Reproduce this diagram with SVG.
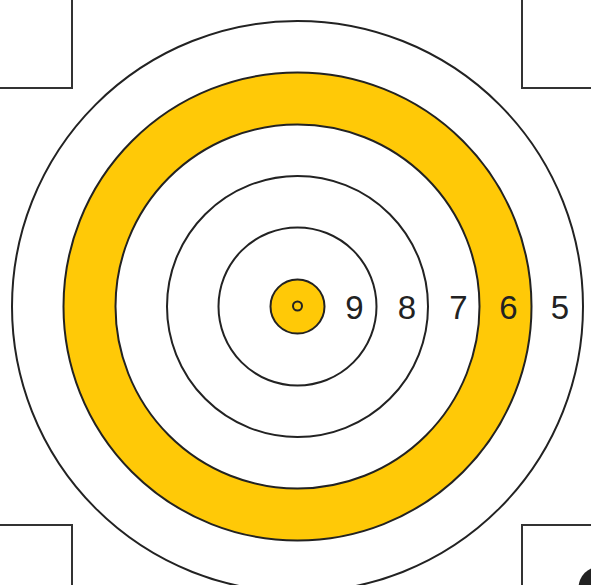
<svg xmlns="http://www.w3.org/2000/svg" width="591" height="585" viewBox="0 0 591 585">
<style>
.ring{stroke:#222;stroke-width:2}
.corner{fill:#fff;stroke:#333;stroke-width:2}
.lbl{font-family:"Liberation Sans",Arial,sans-serif;font-size:33px;fill:#222;text-anchor:middle}
</style>
<rect width="591" height="585" fill="#fff"/>
<g id="corners">
<rect class="corner" x="-100" y="-100" width="172" height="188"/>
<rect class="corner" x="522" y="-100" width="200" height="188"/>
<rect class="corner" x="-100" y="525" width="172" height="200"/>
<rect class="corner" x="522" y="525" width="200" height="200"/>
</g>
<g id="target">
<circle id="ring5" class="ring" cx="297.5" cy="306.5" r="285.5" fill="#fff"/>
<circle id="ring6" class="ring" cx="297.5" cy="306.5" r="234" fill="#FFC907"/>
<circle id="ring7" class="ring" cx="297.5" cy="306.5" r="182" fill="#fff"/>
<circle id="ring8" class="ring" cx="297.5" cy="306.5" r="130.5" fill="#fff"/>
<circle id="ring9" class="ring" cx="297.5" cy="306.5" r="79" fill="#fff"/>
<circle id="ring10" class="ring" cx="297.5" cy="306.5" r="27" fill="#FFC907"/>
<circle id="x" cx="297.5" cy="306" r="4.5" fill="none" stroke="#222" stroke-width="2"/>
</g>
<g id="labels">
<text class="lbl" x="354.5" y="318.5">9</text>
<text class="lbl" x="407" y="318.5">8</text>
<text class="lbl" x="458.5" y="318.5">7</text>
<text class="lbl" x="508.5" y="318.5">6</text>
<text class="lbl" x="560" y="318.5">5</text>
</g>
<circle id="dot" cx="600" cy="588" r="21.5" fill="#222"/>
</svg>
